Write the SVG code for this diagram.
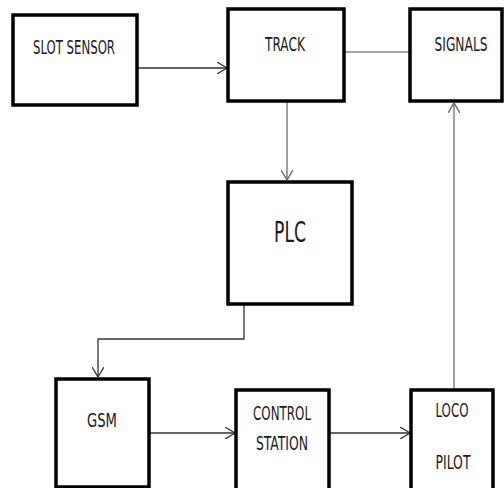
<svg xmlns="http://www.w3.org/2000/svg" width="504" height="488" viewBox="0 0 504 488">
<style>
.box{fill:#fff;stroke:#000;stroke-width:3.5}
.t{font-family:"Liberation Sans Narrow","DejaVu Sans Condensed","Liberation Sans",sans-serif;font-size:19px;fill:#1a1a1a;text-anchor:middle}
.c{fill:none;stroke:#333;stroke-width:1.3}
.g{fill:none;stroke:#888;stroke-width:1.6}
</style>
<defs>
<marker id="a" viewBox="0 0 10 12" refX="10" refY="6" markerWidth="10" markerHeight="12" markerUnits="userSpaceOnUse" orient="auto">
<path d="M0,0 L10,6 L0,12" fill="none" stroke="#333" stroke-width="1.3"/>
</marker>
<marker id="ag" viewBox="0 0 10 12" refX="10" refY="6" markerWidth="10" markerHeight="12" markerUnits="userSpaceOnUse" orient="auto">
<path d="M0,0 L10,6 L0,12" fill="none" stroke="#666" stroke-width="1.4"/>
</marker>
</defs>
<g id="connectors">
<line class="c" x1="137" y1="68" x2="227" y2="68" marker-end="url(#a)"/>
<line class="g" x1="344" y1="52" x2="410" y2="52"/>
<line class="g" x1="287" y1="101" x2="287" y2="180" marker-end="url(#ag)"/>
<polyline class="c" points="244,304 244,339 98,339 98,377" marker-end="url(#a)"/>
<line class="c" x1="149" y1="433" x2="235" y2="433" marker-end="url(#a)"/>
<line class="c" x1="329" y1="433" x2="410" y2="433" marker-end="url(#a)"/>
<line class="g" x1="454" y1="390" x2="454" y2="103" marker-end="url(#ag)"/>
</g>
<g id="slot-sensor">
<rect class="box" x="13" y="15" width="124" height="90"/>
<text class="t" x="74" y="54" textLength="82" lengthAdjust="spacingAndGlyphs">SLOT SENSOR</text>
</g>
<g id="track">
<rect class="box" x="228" y="9" width="116" height="92"/>
<text class="t" x="285" y="51" textLength="40" lengthAdjust="spacingAndGlyphs">TRACK</text>
</g>
<g id="signals">
<rect class="box" x="410" y="9" width="92" height="92"/>
<text class="t" x="461" y="51" textLength="53" lengthAdjust="spacingAndGlyphs">SIGNALS</text>
</g>
<g id="plc">
<rect class="box" x="228" y="182" width="124" height="122"/>
<text class="t" x="290" y="242" style="font-size:28px" textLength="32" lengthAdjust="spacingAndGlyphs">PLC</text>
</g>
<g id="gsm">
<rect class="box" x="56" y="379" width="93" height="108"/>
<text class="t" x="102" y="427" textLength="30" lengthAdjust="spacingAndGlyphs">GSM</text>
</g>
<g id="control-station">
<rect class="box" x="236" y="390" width="93" height="100"/>
<text class="t" x="282" y="420" textLength="58" lengthAdjust="spacingAndGlyphs">CONTROL</text>
<text class="t" x="282" y="450" textLength="52" lengthAdjust="spacingAndGlyphs">STATION</text>
</g>
<g id="loco-pilot">
<rect class="box" x="411" y="390" width="82" height="100"/>
<text class="t" x="452" y="417" textLength="33" lengthAdjust="spacingAndGlyphs">LOCO</text>
<text class="t" x="453" y="469" textLength="35" lengthAdjust="spacingAndGlyphs">PILOT</text>
</g>
</svg>
